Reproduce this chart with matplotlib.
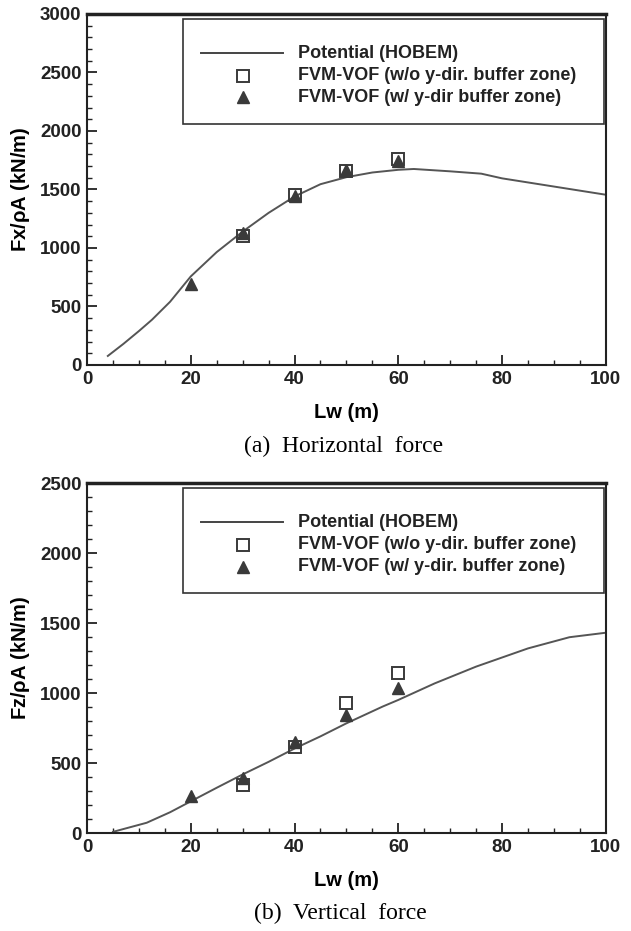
import matplotlib.pyplot as plt
from matplotlib.patches import Rectangle
from matplotlib.ticker import MultipleLocator

# --- data ---
# (a) horizontal force
fx_pot_lw = [4, 7, 10, 12.5, 16, 20, 25, 30, 35, 40, 45, 50, 55, 60, 63, 70, 76, 80, 90, 100]
fx_pot = [77, 180, 290, 386, 540, 757, 965, 1140, 1300, 1440, 1545, 1605, 1645, 1668, 1675, 1655, 1635, 1595, 1525, 1455]
fx_sq_lw = [30, 40, 50, 60]
fx_sq = [1100, 1450, 1660, 1762]
fx_tri_lw = [20, 30, 40, 50, 60]
fx_tri = [695, 1125, 1440, 1670, 1745]

# (b) vertical force
fz_pot_lw = [5, 8, 11.5, 16, 20, 25, 30, 35, 40, 45, 50, 57, 60, 67, 75, 85, 93, 100]
fz_pot = [10, 40, 75, 150, 228, 325, 420, 510, 605, 692, 785, 905, 952, 1070, 1190, 1320, 1400, 1432]
fz_sq_lw = [30, 40, 50, 60]
fz_sq = [345, 619, 929, 1143]
fz_tri_lw = [20, 30, 40, 50, 60]
fz_tri = [267, 393, 655, 845, 1036]

legend_labels_a = ['Potential (HOBEM)',
                   'FVM-VOF (w/o y-dir. buffer zone)',
                   'FVM-VOF (w/ y-dir buffer zone)']
legend_labels_b = ['Potential (HOBEM)',
                   'FVM-VOF (w/o y-dir. buffer zone)',
                   'FVM-VOF (w/ y-dir. buffer zone)']

plt.rcParams['font.family'] = ['Liberation Sans', 'DejaVu Sans']
plt.rcParams['mathtext.default'] = 'regular'
dark = '#3a3a3a'


def draw_panel(ax, lw_line, y_line, lw_sq, y_sq, lw_tri, y_tri, ymax, ylabel, labels):
    ax.plot(lw_line, y_line, color='#555555', lw=1.4, zorder=2)
    ax.plot(lw_tri, y_tri, ls='none', marker='^', ms=9, mfc=dark, mec=dark, zorder=3)
    ax.plot(lw_sq, y_sq, ls='none', marker='s', ms=9, mfc='none', mec=dark, mew=1.4, zorder=4)
    ax.set_xlim(0, 100)
    ax.set_ylim(0, ymax)
    ax.xaxis.set_major_locator(MultipleLocator(20))
    ax.xaxis.set_minor_locator(MultipleLocator(5))
    ax.yaxis.set_major_locator(MultipleLocator(500))
    ax.yaxis.set_minor_locator(MultipleLocator(100))
    ax.tick_params(which='both', direction='in', top=False, right=False, colors='#222222')
    ax.tick_params(which='major', length=7, width=1.3, labelsize=13.5, pad=4)
    ax.tick_params(which='minor', length=3.5, width=1)
    for t in ax.get_xticklabels() + ax.get_yticklabels():
        t.set_fontweight('bold')
        t.set_color('#222222')
    for s in ax.spines.values():
        s.set_linewidth(1.5)
        s.set_color('#222222')
    ax.spines['top'].set_linewidth(2.5)
    ax.set_xlabel('Lw (m)', fontsize=14.5, fontweight='bold', labelpad=11)
    ax.set_ylabel(ylabel, fontsize=14.5, fontweight='bold', labelpad=6)

    # legend box drawn by hand
    x0, y0, x1, y1 = 0.184, 0.686, 0.996, 0.987
    ax.add_patch(Rectangle((x0, y0), x1 - x0, y1 - y0, transform=ax.transAxes,
                           fill=True, fc='white', ec='#333333', lw=1.2, zorder=5))
    rows = [0.888, 0.824, 0.762]
    ax.plot([0.219, 0.378], [rows[0], rows[0]], transform=ax.transAxes,
            color='#444444', lw=1.4, zorder=6)
    ax.plot([0.301], [rows[1]], transform=ax.transAxes, ls='none', marker='s',
            ms=9, mfc='none', mec=dark, mew=1.4, zorder=6)
    ax.plot([0.301], [rows[2]], transform=ax.transAxes, ls='none', marker='^',
            ms=9, mfc=dark, mec=dark, zorder=6)
    for r, lab in zip(rows, labels):
        ax.text(0.407, r, lab, transform=ax.transAxes, fontsize=13,
                fontweight='bold', va='center', ha='left', color='#222222', zorder=7)


fig = plt.figure(figsize=(6.31, 9.31), dpi=100)
ax1 = fig.add_axes([0.138, 0.608, 0.822, 0.377])
ax2 = fig.add_axes([0.138, 0.105, 0.822, 0.376])

draw_panel(ax1, fx_pot_lw, fx_pot, fx_sq_lw, fx_sq, fx_tri_lw, fx_tri, 3000,
           r'Fx/$\rho$A (kN/m)', legend_labels_a)
draw_panel(ax2, fz_pot_lw, fz_pot, fz_sq_lw, fz_sq, fz_tri_lw, fz_tri, 2500,
           r'Fz/$\rho$A (kN/m)', legend_labels_b)

fig.text(0.544, 0.52, '(a)  Horizontal  force', ha='center', va='center',
         fontsize=17, family='Liberation Serif')
fig.text(0.539, 0.019, '(b)  Vertical  force', ha='center', va='center',
         fontsize=17, family='Liberation Serif')

fig.savefig('out.png', dpi=100)
